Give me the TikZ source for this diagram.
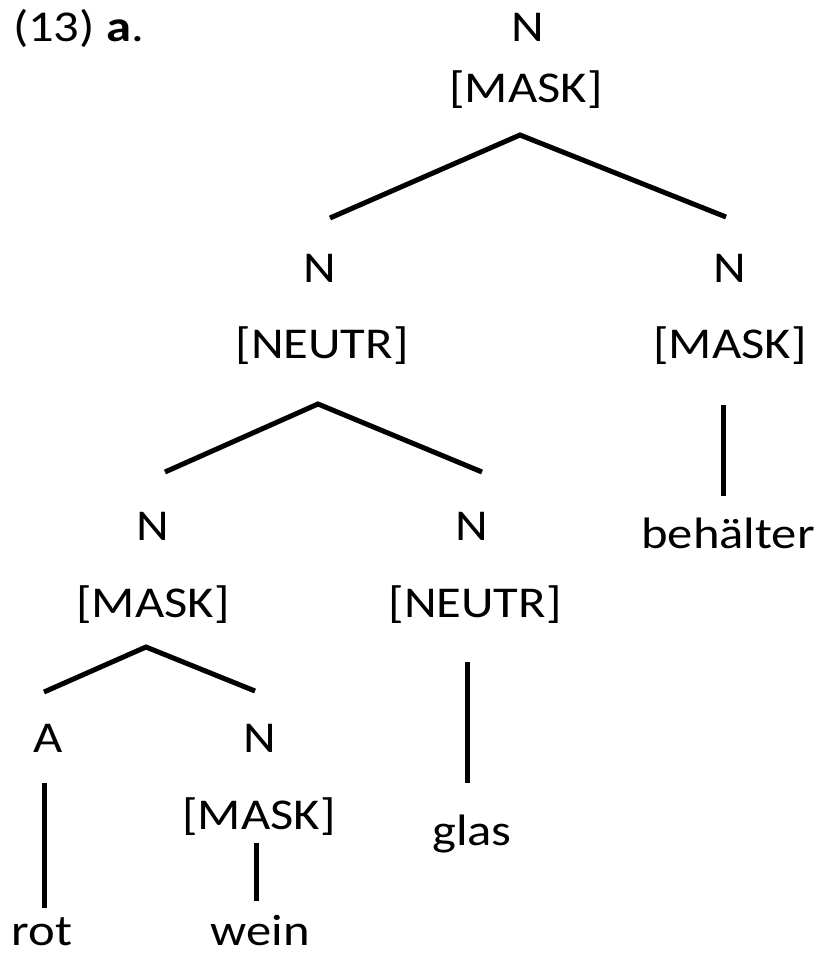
\documentclass[tikz,border=0pt]{standalone}
\usepackage{fontspec}
\setmainfont{Carlito}[FakeStretch=1.15]
\begin{document}
\begin{tikzpicture}[x=1pt,y=-1pt,
  lbl/.style={anchor=base,inner sep=0pt,outer sep=0pt,font=\fontsize{44}{52}\selectfont},
  branch/.style={line width=5pt}]
\useasboundingbox (0,0) rectangle (821,957);
% labels
\node[lbl,anchor=base west] (ex) at (13,42) {(13) \textbf{a}.};
\node[lbl] (n0) at (528,42) {N};
\node[lbl] (f0) at (526,103) {[MASK]};
\node[lbl] (n1) at (320,283) {N};
\node[lbl] (f1) at (322,358) {[NEUTR]};
\node[lbl] (n2) at (730,283) {N};
\node[lbl] (f2) at (730,358) {[MASK]};
\node[lbl] (w2) at (728,548) {behälter};
\node[lbl] (n3) at (153,540) {N};
\node[lbl] (f3) at (153,617) {[MASK]};
\node[lbl] (n4) at (472,540) {N};
\node[lbl] (f4) at (475,617) {[NEUTR]};
\node[lbl] (w4) at (472,845) {glas};
\node[lbl] (a5) at (48,752) {A};
\node[lbl] (w5) at (42,945) {rot};
\node[lbl] (n6) at (260,752) {N};
\node[lbl] (f6) at (259,829) {[MASK]};
\node[lbl] (w6) at (260,945) {wein};
% branch points
\coordinate (p0) at (520,135);
\coordinate (p0l) at (330,218);
\coordinate (p0r) at (726,217);
\coordinate (p1) at (318,404);
\coordinate (p1l) at (165,472);
\coordinate (p1r) at (482,472);
\coordinate (p2t) at (723,405);
\coordinate (p2b) at (723,496);
\coordinate (p3) at (146,647);
\coordinate (p3l) at (44,692);
\coordinate (p3r) at (255,691);
\coordinate (p4t) at (467,662);
\coordinate (p4b) at (467,783);
\coordinate (p5t) at (44,783);
\coordinate (p5b) at (44,908);
\coordinate (p6t) at (256,843);
\coordinate (p6b) at (256,901);
% branches
\draw[branch] (p0l) -- (p0) -- (p0r);
\draw[branch] (p1l) -- (p1) -- (p1r);
\draw[branch] (p2t) -- (p2b);
\draw[branch] (p3l) -- (p3) -- (p3r);
\draw[branch] (p4t) -- (p4b);
\draw[branch] (p5t) -- (p5b);
\draw[branch] (p6t) -- (p6b);
\end{tikzpicture}
\end{document}
